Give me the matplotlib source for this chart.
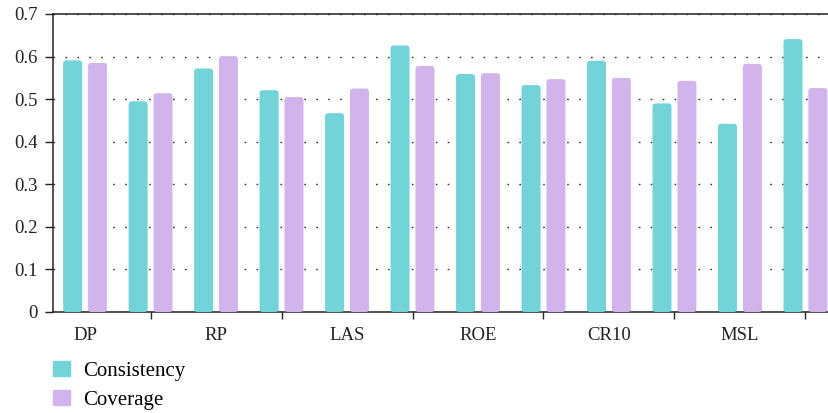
import matplotlib
matplotlib.use("Agg")
import numpy as np
import matplotlib.pyplot as plt
from matplotlib.patches import FancyBboxPatch, Patch

# values (12 bar pairs, labels on every other pair)
labels = ["DP", "RP", "LAS", "ROE", "CR10", "MSL"]
consistency = [0.591, 0.495, 0.572, 0.521, 0.467, 0.626,
               0.559, 0.533, 0.590, 0.490, 0.442, 0.641]
coverage = [0.585, 0.514, 0.601, 0.505, 0.525, 0.578,
            0.561, 0.547, 0.550, 0.543, 0.583, 0.526]

TEAL = "#72D3D8"
LILAC = "#D2B4EC"
AXC = "#222222"

plt.rcParams["font.family"] = ["Liberation Serif", "DejaVu Serif"]
plt.rcParams["font.size"] = 13.5

fig = plt.figure(figsize=(8.29, 4.13), dpi=100)
ax = fig.add_axes([53 / 829, 101 / 413, 1 - 53 / 829, 298 / 413])

x = np.arange(len(consistency))
w = 0.29
off = 0.19
b1 = ax.bar(x - off, consistency, w, color=TEAL, zorder=3)
b2 = ax.bar(x + off, coverage, w, color=LILAC, zorder=3)

ax.set_xlim(-0.49, 11.36)
ax.set_ylim(0, 0.7)

# swap plain rectangles for rounded ones
aspect = (0.7 / 298) / (11.85 / 776)
for bars in (b1, b2):
    for r in bars:
        fb = FancyBboxPatch((r.get_x(), r.get_y()), r.get_width(), r.get_height(),
                            boxstyle="round,pad=0,rounding_size=0.05",
                            mutation_aspect=aspect, fc=r.get_facecolor(),
                            ec="none", zorder=3)
        r.remove()
        ax.add_patch(fb)

ax.set_yticks(np.arange(0, 0.71, 0.1))
ax.set_yticklabels(["0"] + [f"{v:.1f}" for v in np.arange(0.1, 0.71, 0.1)])
ax.tick_params(axis="y", length=6, width=1, color=AXC, pad=5, labelcolor=AXC)

ax.set_xticks(np.arange(1, 12, 2))
ax.set_xticklabels([])
ax.set_xticks(np.arange(0, 12, 2), minor=True)
ax.set_xticklabels(labels, minor=True)
ax.tick_params(axis="x", which="major", length=5, width=1, color=AXC)
ax.tick_params(axis="x", which="minor", length=0, pad=11, labelcolor=AXC)

ax.yaxis.grid(True, linestyle=(0, (1.2, 7.4)), color="#333333", linewidth=1.0, zorder=0)
ax.set_axisbelow(True)
for s in ("left", "bottom", "top"):
    ax.spines[s].set_color(AXC)
    ax.spines[s].set_linewidth(1.1)
ax.spines["right"].set_visible(False)

handles = [Patch(color=TEAL, label="Consistency"), Patch(color=LILAC, label="Coverage")]
fig.legend(handles=handles, loc="upper left", bbox_to_anchor=(53 / 829, 1 - 361 / 413),
           frameon=False, borderpad=0, borderaxespad=0, handlelength=0.8,
           handleheight=0.75, handletextpad=0.65, labelspacing=0.42,
           prop={"size": 15})

fig.savefig("out.png", dpi=100)
